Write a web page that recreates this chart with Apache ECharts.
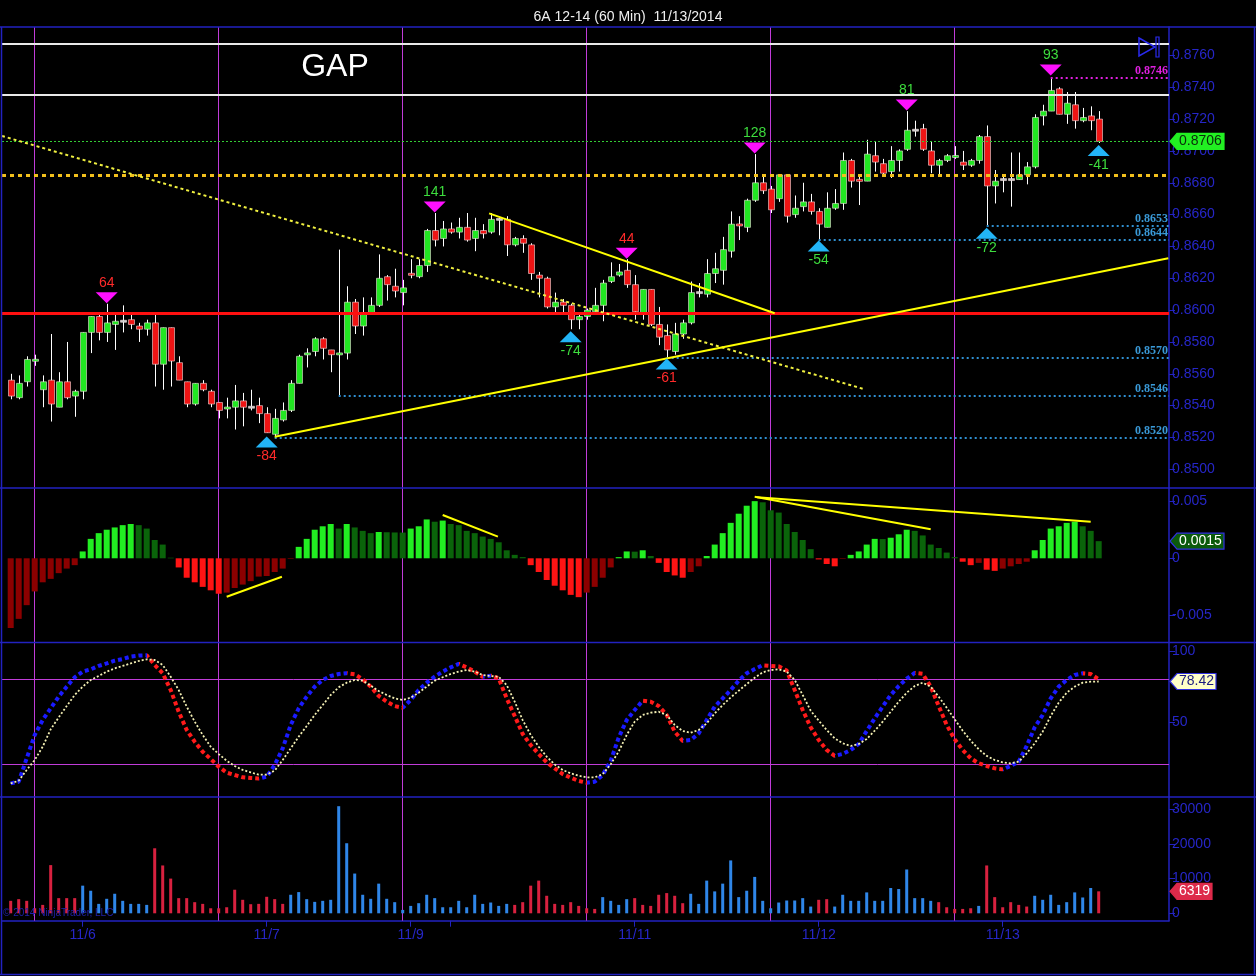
<!DOCTYPE html>
<html><head><meta charset="utf-8">
<script src="https://cdn.jsdelivr.net/npm/echarts@6/dist/echarts.min.js"></script>
<style>html,body{margin:0;padding:0;background:#000;}#c{width:1256px;height:976px;}</style>
</head><body><div id="c"></div>
<script>
const chartTitle = '6A 12-14 (60 Min)  11/13/2014';
const openP = [.8556,.8545,.8555,.8568,.8550,.8556,.8539,.8555,.8546,.8549,
 .8586,.8596,.8586,.8591,.8593,.8594,.8590,.8588,.8592,.8566,
 .8589,.8567,.8555,.8541,.8554,.8549,.8542,.8538,.8539,.8543,
 .8539,.8540,.8535,.8522,.8531,.8537,.8554,.8572,.8574,.8582,
 .8575,.8572,.8573,.8605,.8590,.8598,.8603,.8621,.8615,.8611,
 .8623,.8621,.8628,.8650,.8645,.8651,.8649,.8652,.8645,.8650,
 .8649,.8657,.8657,.8641,.8645,.8641,.8622,.8620,.8602,.8605,
 .8603,.8594,.8596,.8599,.8603,.8618,.8622,.8625,.8616,.8598,
 .8613,.8591,.8584,.8574,.8585,.8592,.8611,.8610,.8623,.8625,
 .8637,.8654,.8652,.8669,.8680,.8676,.8670,.8685,.8660,.8665,
 .8668,.8662,.8652,.8664,.8667,.8694,.8682,.8681,.8697,.8692,
 .8687,.8694,.8701,.8713,.8714,.8700,.8691,.8694,.8696,.8693,
 .8691,.8694,.8709,.8678,.8682,.8682,.8682,.8685,.8690,.8722,
 .8725,.8739,.8723,.8729,.8719,.8722,.8720];
const closeP = [.8546,.8554,.8569,.8569,.8555,.8541,.8555,.8545,.8549,.8586,
 .8596,.8586,.8592,.8593,.8593,.8591,.8588,.8592,.8566,.8589,
 .8568,.8556,.8541,.8554,.8550,.8541,.8537,.8539,.8543,.8539,
 .8539,.8535,.8523,.8532,.8537,.8554,.8571,.8573,.8582,.8576,
 .8572,.8573,.8605,.8590,.8598,.8603,.8620,.8616,.8612,.8614,
 .8622,.8628,.8650,.8644,.8651,.8649,.8652,.8644,.8650,.8648,
 .8657,.8657,.8641,.8645,.8642,.8623,.8620,.8602,.8605,.8603,
 .8594,.8596,.8600,.8603,.8617,.8621,.8624,.8616,.8599,.8613,
 .8591,.8583,.8575,.8585,.8592,.8611,.8611,.8623,.8626,.8638,
 .8654,.8653,.8669,.8680,.8675,.8663,.8685,.8659,.8664,.8668,
 .8662,.8654,.8664,.8667,.8694,.8681,.8681,.8698,.8693,.8686,
 .8694,.8700,.8713,.8713,.8701,.8691,.8694,.8697,.8697,.8691,
 .8694,.8709,.8678,.8681,.8682,.8682,.8685,.8690,.8721,.8725,
 .8738,.8723,.8730,.8719,.8721,.8719,.8706];
const lowP = [.8544,.8544,.8552,.8565,.8539,.8530,.8539,.8544,.8533,.8544,
 .8573,.8581,.8580,.8575,.8586,.8588,.8580,.8584,.8552,.8550,
 .8552,.8556,.8539,.8540,.8549,.8539,.8532,.8532,.8525,.8527,
 .8537,.8529,.8523,.8520,.8530,.8536,.8554,.8564,.8571,.8569,
 .8561,.8546,.8569,.8585,.8584,.8597,.8602,.8606,.8608,.8603,
 .8620,.8620,.8624,.8640,.8640,.8648,.8645,.8643,.8637,.8645,
 .8648,.8647,.8634,.8640,.8636,.8619,.8608,.8601,.8598,.8597,
 .8588,.8588,.8594,.8598,.8593,.8617,.8621,.8614,.8594,.8594,
 .8590,.8578,.8570,.8572,.8582,.8591,.8608,.8608,.8617,.8616,
 .8633,.8644,.8649,.8668,.8673,.8661,.8668,.8655,.8658,.8662,
 .8660,.8644,.8652,.8663,.8663,.8677,.8666,.8681,.8687,.8684,
 .8683,.8687,.8700,.8709,.8700,.8686,.8684,.8693,.8695,.8688,
 .8690,.8692,.8653,.8667,.8674,.8665,.8682,.8679,.8689,.8716,
 .8725,.8723,.8717,.8714,.8718,.8713,.8705];
const highP = [.8560,.8559,.8571,.8572,.8559,.8585,.8561,.8580,.8550,.8586,
 .8596,.8597,.8604,.8597,.8603,.8597,.8592,.8594,.8597,.8589,
 .8589,.8571,.8555,.8554,.8556,.8550,.8542,.8545,.8553,.8548,
 .8550,.8545,.8539,.8538,.8542,.8556,.8572,.8576,.8583,.8583,
 .8575,.8638,.8615,.8607,.8608,.8608,.8635,.8622,.8626,.8619,
 .8632,.8632,.8651,.8661,.8656,.8655,.8658,.8661,.8658,.8654,
 .8661,.8658,.8659,.8646,.8647,.8642,.8624,.8621,.8611,.8607,
 .8604,.8597,.8601,.8614,.8619,.8630,.8629,.8632,.8622,.8613,
 .8613,.8602,.8591,.8592,.8594,.8618,.8617,.8632,.8636,.8646,
 .8662,.8659,.8670,.8698,.8685,.8678,.8685,.8685,.8672,.8680,
 .8673,.8664,.8674,.8676,.8699,.8695,.8685,.8707,.8706,.8695,
 .8703,.8701,.8725,.8719,.8717,.8706,.8695,.8698,.8703,.8700,
 .8695,.8710,.8716,.8688,.8684,.8699,.8699,.8693,.8723,.8729,
 .8746,.8740,.8737,.8737,.8727,.8728,.8725];
const macdHist = [-0.0061,-0.0053,-0.0041,-0.0029,-0.0021,-0.0018,-0.0013,-0.0009,-0.0006,0.0006,
 0.0017,0.0022,0.0025,0.0027,0.0029,0.0030,0.0029,0.0026,0.0016,0.0012,
 0.00005,-0.0008,-0.0017,-0.0021,-0.0025,-0.0028,-0.0031,-0.0030,-0.0026,-0.0023,
 -0.0020,-0.0016,-0.00155,-0.0012,-0.0009,-0.00005,0.0010,0.0017,0.0025,0.0028,
 0.0030,0.0026,0.0030,0.0027,0.0024,0.0022,0.0023,0.00228,0.00226,0.00225,
 0.0026,0.0028,0.0034,0.0032,0.0033,0.0030,0.0029,0.0024,0.0022,0.0019,
 0.0017,0.0014,0.0007,0.0003,0.0001,-0.0006,-0.0012,-0.0019,-0.0024,-0.0028,
 -0.0032,-0.0034,-0.0030,-0.0025,-0.0017,-0.0008,0.0001,0.0006,0.00058,0.0007,
 0.0002,-0.0004,-0.0012,-0.0015,-0.0017,-0.0012,-0.0007,0.0002,0.0012,0.0022,
 0.0031,0.0039,0.0046,0.0050,0.0049,0.0042,0.0040,0.0030,0.0023,0.0016,
 0.0008,-0.0001,-0.0005,-0.0007,-0.00005,0.0003,0.0006,0.0012,0.0017,0.00168,
 0.0018,0.0021,0.0025,0.0024,0.0020,0.0012,0.0009,0.0005,0.0001,-0.0003,
 -0.0006,-0.0004,-0.0010,-0.0011,-0.0009,-0.0007,-0.0005,-0.0003,0.0007,0.0016,
 0.0026,0.0028,0.0031,0.0032,0.0028,0.0024,0.0015];
const stochK = [6.5,7.7,24.2,40.7,51.2,59.5,67.7,74.8,81.4,85.4,
 87.0,89.4,91.2,93.1,94.3,96.0,96.7,96.9,90.1,84.2,
 72.4,57.1,44.2,35.9,28.9,23.7,18.3,14.1,12.4,10.8,
 10.3,10.0,11.2,19.5,31.2,47.7,59.5,67.7,74.8,79.5,
 82.3,83.7,84.3,83.5,80.0,74.8,68.2,64.2,61.1,59.9,
 65.4,72.4,77.6,81.8,85.4,88.4,90.8,88.4,85.4,81.8,
 82.5,80.6,66.5,54.1,41.4,33.6,27.2,21.4,17.1,13.1,
 10.5,8.2,7.0,7.7,12.4,22.5,38.8,51.2,58.3,64.9,
 64.2,61.1,54.8,43.0,36.5,37.1,41.8,51.2,60.7,66.5,
 72.4,79.0,84.2,87.2,89.9,89.4,89.1,86.1,72.4,58.3,
 46.1,37.1,30.1,25.9,27.3,30.1,34.3,43.5,52.4,60.7,
 68.9,75.2,80.4,84.5,83.8,74.8,61.1,47.7,37.6,30.1,
 24.2,20.7,18.8,17.1,16.4,18.8,21.8,32.9,46.1,54.8,
 66.5,74.8,79.5,83.0,84.2,83.7,79.9];
const stochD = [6.5,8.4,16.0,23.0,32.4,44.7,53.1,61.1,68.9,74.8,
 79.5,82.3,85.4,87.7,89.4,91.2,92.9,94.1,93.6,90.1,
 81.8,72.4,60.7,50.1,40.7,32.4,27.2,22.5,18.8,16.0,
 14.3,12.7,12.7,15.5,23.0,31.2,39.5,47.0,54.8,61.8,
 68.9,74.3,77.6,79.5,79.0,75.5,71.7,68.9,66.5,65.4,
 67.0,70.5,74.8,79.0,81.4,83.7,85.4,86.5,85.4,83.0,
 82.3,81.8,75.9,64.2,51.2,40.7,32.4,25.4,19.9,16.0,
 13.6,11.9,10.8,10.8,13.0,20.0,29.0,40.7,50.1,54.8,
 56.4,57.1,54.8,47.7,43.5,42.3,44.2,48.9,55.9,61.8,
 67.2,71.9,76.6,81.1,84.9,86.5,87.0,85.4,79.5,68.9,
 57.8,50.8,44.2,38.3,34.8,32.9,34.3,37.8,43.7,50.1,
 57.1,64.2,70.5,75.2,77.6,74.8,67.7,59.9,51.7,43.7,
 36.7,30.6,25.9,23.0,21.4,20.7,21.8,27.7,34.8,43.0,
 54.1,63.5,70.5,74.8,77.6,78.3,78.42];
const volume = [3585,4070,3585,1450,2420,13860,4360,4360,4360,7950,
 6490,2710,4170,5620,3585,2710,2710,2420,18700,13760,
 9980,4360,4360,3200,2710,1450,1450,1740,6780,3880,
 2620,2710,4750,4070,2710,5330,6100,4070,3290,3585,
 3880,30800,20150,11430,5330,4170,8530,4170,3200,970,
 2130,2910,5330,4360,1740,1740,3585,1740,5330,2710,
 3100,2130,2710,2420,3200,7950,9400,5040,2710,2420,
 3200,2130,1450,1260,4650,3585,2420,4070,4360,2420,
 2130,5330,5810,5040,2910,5620,2710,9400,6300,8530,
 15210,4650,6490,10470,3585,1450,3100,3680,3680,4360,
 1940,3880,4070,1940,5330,3585,3585,6010,3585,3585,
 7270,6980,12600,4360,4360,3585,3200,1740,1260,1260,
 1450,2130,13760,4650,1740,3200,2420,1940,5040,3880,
 5330,2420,3200,6010,4550,7270,6319];
const volumeUp = [0,0,0,0,0,0,0,0,0,1,
 1,1,1,1,1,1,1,1,0,0,
 0,0,0,0,0,0,0,0,0,0,
 0,0,0,0,0,1,1,1,1,1,
 1,1,1,1,1,1,1,1,1,1,
 1,1,1,1,1,1,1,1,1,1,
 1,1,1,0,0,0,0,0,0,0,
 0,0,0,0,1,1,1,1,0,0,
 0,0,0,0,0,1,1,1,1,1,
 1,1,1,1,1,1,1,1,1,1,
 1,0,0,1,1,1,1,1,1,1,
 1,1,1,1,1,1,0,0,0,0,
 0,1,0,0,0,0,0,0,1,1,
 1,1,1,1,1,1,0];
const priceTicks = [0.8500,0.8520,0.8540,0.8560,0.8580,0.8600,0.8620,0.8640,0.8660,0.8680,0.8700,0.8720,0.8740,0.8760];
const macdTicks = [-0.005, 0, 0.005];
const stochTicks = [50, 100];
const stochLevels = [20, 80];
const volumeTicks = [0, 10000, 20000, 30000];
const dateTickIdx = [9, 32, 50, 78, 101, 124];
const dateTickLabel = ['11/6', '11/7', '11/9', '11/11', '11/12', '11/13'];
const extraTickIdx = [55];
const sessionIdx = [3, 26, 49, 72, 95, 118];
const swingHighIdx = [12, 53, 77, 93, 112, 130];
const swingHighPrice = [0.8604, 0.8661, 0.8632, 0.8698, 0.8725, 0.8747];
const swingHighLabel = ['64', '141', '44', '128', '81', '93'];
const swingHighTone = ['r', 'g', 'r', 'g', 'g', 'g'];
const swingLowIdx = [32, 70, 82, 101, 122, 136];
const swingLowPrice = [0.8521, 0.8587, 0.8570, 0.8644, 0.8652, 0.8704];
const swingLowLabel = ['-84', '-74', '-61', '-54', '-72', '-41'];
const swingLowTone = ['r', 'g', 'r', 'g', 'g', 'g'];
const whiteLevels = [0.87676, 0.87355];
const goldLevel = 0.8685;
const redLevel = 0.8598;
const blueLevelIdx = [122, 101, 82, 41, 33];
const blueLevelVal = [0.8653, 0.8644, 0.8570, 0.8546, 0.8520];
const magentaLevelIdx = 130;
const magentaLevelVal = 0.8746;
const trendDotted = [[-1.09, 0.87094], [106.8, 0.85502]];
const trendUp = [[33, 0.85205], [144.7, 0.86326]];
const trendDown = [[59.8, 0.86608], [95.5, 0.8598]];
const macdTrend1 = [[27.0, -0.00336], [33.9, -0.00161]];
const macdTrend2 = [[54.0, 0.00379], [60.9, 0.00189]];
const macdTrend3 = [[93.0, 0.00539], [115.0, 0.00254]];
const macdTrend4 = [[93.3, 0.00534], [135.0, 0.00320]];

// ---- styling / layout ----
const N = openP.length;
const X_MIN = -1.0875, X_MAX = 144.7875;
const AX = '#2222c0', LBL = '#2626c8';
const FONT = '"Liberation Sans", Arial, sans-serif';
const UP = '#22e622', DOWN = '#ee1414', DOJI = '#c8c8c8';
const SESS = '#c03cd8';
const idx = Array.from({length: N}, (_, i) => i);

const grids = [
  {left: 2, right: 87, top: 27, height: 461},
  {left: 2, right: 87, top: 488, height: 154.5},
  {left: 2, right: 87, top: 642.5, height: 154.5},
  {left: 2, right: 87, top: 797, height: 123.7}
];
const sessionLines = sessionIdx.map(x => ({xAxis: x}));

function yAx(g, min, max, ticks, fmt) {
  return {type: 'value', gridIndex: g, position: 'right', min, max,
    axisLine: {show: true, onZero: false, lineStyle: {color: AX, width: 1.5}},
    axisTick: {show: true, length: 6, customValues: ticks, lineStyle: {color: AX}},
    axisLabel: {show: true, customValues: ticks, formatter: fmt, color: LBL, fontSize: 14, fontFamily: FONT, margin: 3},
    splitLine: {show: false}};
}
function xAx(g, show) {
  return {type: 'value', gridIndex: g, min: X_MIN, max: X_MAX, show,
    axisLine: {show: true, onZero: false, lineStyle: {color: AX, width: 1.5}},
    axisTick: {show: true, length: 6, customValues: dateTickIdx.concat(extraTickIdx), lineStyle: {color: AX}},
    axisLabel: {show: true, customValues: dateTickIdx, color: LBL, fontSize: 14, fontFamily: FONT, margin: 7,
      formatter: v => { const k = dateTickIdx.indexOf(Math.round(v)); return k >= 0 ? dateTickLabel[k] : ''; }},
    splitLine: {show: false}};
}

function renderCandle(params, api) {
  const i = api.value(0), o = api.value(1), c = api.value(2), l = api.value(3), h = api.value(4);
  const po = api.coord([i, o]), pc = api.coord([i, c]), pl = api.coord([i, l]), ph = api.coord([i, h]);
  const bw = api.size([1, 0])[0] * 0.75;
  const x = Math.round(po[0]) + 0.5;
  let top = Math.min(po[1], pc[1]), bh = Math.abs(po[1] - pc[1]);
  if (bh < 2) { top = (po[1] + pc[1]) / 2 - 1; bh = 2; }
  const col = c > o ? UP : (c < o ? DOWN : DOJI);
  return {type: 'group', children: [
    {type: 'line', shape: {x1: x, y1: ph[1], x2: x, y2: pl[1]}, style: {stroke: '#ffffff', lineWidth: 1}},
    {type: 'rect', shape: {x: x - bw / 2, y: top, width: bw, height: bh}, style: {fill: col, stroke: 'rgba(255,235,235,0.55)', lineWidth: 1}}
  ]};
}

const toneColor = t => t === 'r' ? '#ff2a2a' : '#3ddc3d';
const highData = swingHighIdx.map((x, k) => ({value: [x, swingHighPrice[k], swingHighLabel[k]], label: {color: toneColor(swingHighTone[k])}}));
const lowData = swingLowIdx.map((x, k) => ({value: [x, swingLowPrice[k], swingLowLabel[k]], label: {color: toneColor(swingLowTone[k])}}));

const levelLabel = (color) => ({show: true, position: 'insideEndTop', distance: 1, color, fontWeight: 'bold', fontSize: 12, fontFamily: '"Liberation Serif", serif', formatter: p => Number(p.value).toFixed(4)});
const levelLines = [
  {yAxis: whiteLevels[0], lineStyle: {color: '#e8e8e8', width: 2, type: 'solid'}},
  {yAxis: whiteLevels[1], lineStyle: {color: '#e8e8e8', width: 2, type: 'solid'}},
  {yAxis: closeP[N - 1], lineStyle: {color: '#33cc33', width: 1, type: [2, 2]}},
  {yAxis: goldLevel, lineStyle: {color: '#f2c01c', width: 3, type: [4, 4]}},
  {yAxis: redLevel, lineStyle: {color: '#ff1010', width: 3, type: 'solid'}},
  [{coord: [magentaLevelIdx, magentaLevelVal], value: magentaLevelVal, lineStyle: {color: '#e020e0', width: 2, type: [2, 3]}, label: levelLabel('#e020e0')},
   {coord: [X_MAX, magentaLevelVal]}]
].concat(blueLevelIdx.map((x, k) => [
  {coord: [x, blueLevelVal[k]], value: blueLevelVal[k], lineStyle: {color: '#2f8fd0', width: 2, type: [2, 3]}, label: levelLabel('#3a9ad8')},
  {coord: [X_MAX, blueLevelVal[k]]}
]));

// MACD colors by rule
const MG = '#22ee22', MGD = '#0a640a', MR = '#ff1414', MRD = '#8c0000';
const macdColors = macdHist.map((v, i) => {
  const p = i > 0 ? macdHist[i - 1] : -Infinity;
  return v >= 0 ? (v >= p ? MG : MGD) : (v <= p ? MR : MRD);
});

// %K direction pieces (blue rising, red falling)
const KB = '#1a1aff', KR = '#ff1a1a';
const kPieces = [];
{
  let start = X_MIN - 1, cur = stochK[1] >= stochK[0];
  for (let i = 1; i < N - 1; i++) {
    const d = stochK[i + 1] >= stochK[i];
    if (d !== cur) { kPieces.push({gte: start, lt: i, color: cur ? KB : KR}); start = i; cur = d; }
  }
  kPieces.push({gte: start, lte: X_MAX + 1, color: cur ? KB : KR});
}

const trendSeries = (data, g, color, width, type) => ({type: 'line', xAxisIndex: g, yAxisIndex: g, data, symbol: 'none', silent: true, z: 4,
  lineStyle: {color, width, type}, animation: false});

const sessMarks = (extra) => ({silent: true, symbol: 'none', z: 1, precision: 10, label: {show: false}, lineStyle: {color: SESS, width: 1, type: 'solid'}, data: sessionLines.concat(extra || [])});

const option = {
  backgroundColor: '#000000',
  animation: false,
  textStyle: {fontFamily: FONT},
  title: {text: chartTitle, left: 'center', top: 5, textStyle: {color: '#f0f0f0', fontSize: 14, fontWeight: 'normal', fontFamily: FONT}},
  grid: grids,
  xAxis: [xAx(0, false), xAx(1, false), xAx(2, false), xAx(3, true)],
  yAxis: [
    yAx(0, 0.8488266, 0.877784, priceTicks, v => v.toFixed(4)),
    yAx(1, -0.007367, 0.006150, macdTicks, v => v === 0 ? '0' : String(v)),
    yAx(2, -3.1, 105.95, stochTicks, v => String(v)),
    yAx(3, -2128, 33448, volumeTicks, v => String(v))
  ],
  visualMap: [{type: 'piecewise', show: false, dimension: 0, seriesIndex: 9, pieces: kPieces}],
  series: [
    // 0 candles
    {type: 'custom', xAxisIndex: 0, yAxisIndex: 0, z: 3, renderItem: renderCandle,
      data: idx.map(i => [i, openP[i], closeP[i], lowP[i], highP[i]]),
      encode: {x: 0, y: [1, 2, 3, 4]},
      markLine: sessMarks()},
    // 1 swing highs + levels
    {type: 'scatter', xAxisIndex: 0, yAxisIndex: 0, z: 6, data: highData,
      symbol: 'path://M0,0L2,0L1,1Z', symbolSize: [22, 11], symbolOffset: [0, -6],
      itemStyle: {color: '#ff10ff', opacity: 1},
      label: {show: true, position: 'top', distance: 2, fontSize: 14, fontFamily: FONT, formatter: p => p.value[2]},
      markLine: {silent: true, symbol: 'none', z: 4, precision: 10, label: {show: false}, data: levelLines}},
    // 2 swing lows
    {type: 'scatter', xAxisIndex: 0, yAxisIndex: 0, z: 6, data: lowData,
      symbol: 'path://M1,0L2,1L0,1Z', symbolSize: [22, 11], symbolOffset: [0, 6],
      itemStyle: {color: '#22b4f6', opacity: 1},
      label: {show: true, position: 'bottom', distance: 2, fontSize: 14, fontFamily: FONT, formatter: p => p.value[2]}},
    // 3-5 price trend lines
    trendSeries(trendDotted, 0, '#f0f040', 2, [3, 3]),
    trendSeries(trendUp, 0, '#ffff00', 2, 'solid'),
    trendSeries(trendDown, 0, '#ffff00', 2, 'solid'),
    // 6 MACD histogram
    {type: 'bar', xAxisIndex: 1, yAxisIndex: 1, z: 2, barWidth: 6,
      data: idx.map(i => ({value: [i, macdHist[i]], itemStyle: {color: macdColors[i]}})),
      markLine: sessMarks()},
    // 7-8 MACD trend lines
    trendSeries(macdTrend1, 1, '#ffff00', 2, 'solid'),
    trendSeries(macdTrend2, 1, '#ffff00', 2, 'solid'),
    // 9 %K
    {type: 'line', xAxisIndex: 2, yAxisIndex: 2, z: 3, symbol: 'none', data: idx.map(i => [i, stochK[i]]),
      lineStyle: {width: 4, type: [4, 3]},
      markLine: sessMarks(stochLevels.map(v => ({yAxis: v})))},
    // 10 %D
    {type: 'line', xAxisIndex: 2, yAxisIndex: 2, z: 4, symbol: 'none', data: idx.map(i => [i, stochD[i]]),
      lineStyle: {width: 1.8, type: [2, 2], color: '#f4f0b4'}},
    // 11 volume
    {type: 'bar', xAxisIndex: 3, yAxisIndex: 3, z: 2, barWidth: 3,
      data: idx.map(i => ({value: [i, volume[i]], itemStyle: {color: volumeUp[i] ? '#2f86e8' : '#d8213f'}})),
      markLine: sessMarks()},
    // 12-13 more MACD trend lines
    trendSeries(macdTrend3, 1, '#ffff00', 2, 'solid'),
    trendSeries(macdTrend4, 1, '#ffff00', 2, 'solid')
  ]
};

const chart = echarts.init(document.getElementById('c'), null, {renderer: 'canvas', width: 1256, height: 976});
chart.setOption(option);

function tag(x, y, w, text, fill, textColor, stroke) {
  return [
    {type: 'polygon', z: 60, shape: {points: [[x, y], [x + 7, y - 8], [x + w, y - 8], [x + w, y + 8], [x + 7, y + 8]]},
      style: {fill, stroke: stroke || fill, lineWidth: 1.2}},
    {type: 'text', z: 61, x: x + 9, y: y, style: {text, fill: textColor, fontSize: 14, fontFamily: FONT, verticalAlign: 'middle', align: 'left'}}
  ];
}
const yPrice = chart.convertToPixel({yAxisIndex: 0}, closeP[N - 1]);
const yMacd = chart.convertToPixel({yAxisIndex: 1}, macdHist[N - 1]);
const yStoch = chart.convertToPixel({yAxisIndex: 2}, stochD[N - 1]);
const yVol = chart.convertToPixel({yAxisIndex: 3}, volume[N - 1]);

const frame = {stroke: AX, lineWidth: 1.5};
const graphics = [
  {type: 'line', z: 20, shape: {x1: 0, y1: 27, x2: 1256, y2: 27}, style: frame},
  {type: 'line', z: 20, shape: {x1: 0, y1: 488, x2: 1256, y2: 488}, style: frame},
  {type: 'line', z: 20, shape: {x1: 0, y1: 642.5, x2: 1256, y2: 642.5}, style: frame},
  {type: 'line', z: 20, shape: {x1: 0, y1: 797, x2: 1256, y2: 797}, style: frame},
  {type: 'line', z: 20, shape: {x1: 1.5, y1: 27, x2: 1.5, y2: 975}, style: frame},
  {type: 'line', z: 20, shape: {x1: 1254.5, y1: 27, x2: 1254.5, y2: 975}, style: frame},
  {type: 'line', z: 20, shape: {x1: 0, y1: 974.5, x2: 1256, y2: 974.5}, style: frame},
  {type: 'text', z: 20, x: 335, y: 67, style: {text: 'GAP', fill: '#ffffff', fontSize: 32, fontFamily: FONT, align: 'center', verticalAlign: 'middle'}},
  {type: 'text', z: 20, x: 3, y: 913, style: {text: '\u00a9 2014 NinjaTrader, LLC', fill: '#2020a8', fontSize: 10, fontFamily: FONT, verticalAlign: 'middle'}},
  {type: 'polygon', z: 20, shape: {points: [[1139, 38], [1155, 47], [1139, 56]]}, style: {fill: 'none', stroke: '#2a2af0', lineWidth: 1.5}},
  {type: 'rect', z: 20, shape: {x: 1156, y: 37, width: 3, height: 20}, style: {fill: 'none', stroke: '#2a2af0', lineWidth: 1.2}}
].concat(
  tag(1170, yPrice, 54, closeP[N - 1].toFixed(4), '#22f022', '#0a2a0a'),
  tag(1170, yMacd, 54, macdHist[N - 1].toFixed(4), '#0b5a0b', '#ffffff', '#3030e0'),
  tag(1170, yStoch, 46, stochD[N - 1].toFixed(2), '#ffffc8', '#1a1a80', '#3030e0'),
  tag(1170, yVol, 42, String(volume[N - 1]), '#dd2a4a', '#ffffff')
);
chart.setOption({graphic: graphics});
</script>
</body></html>
